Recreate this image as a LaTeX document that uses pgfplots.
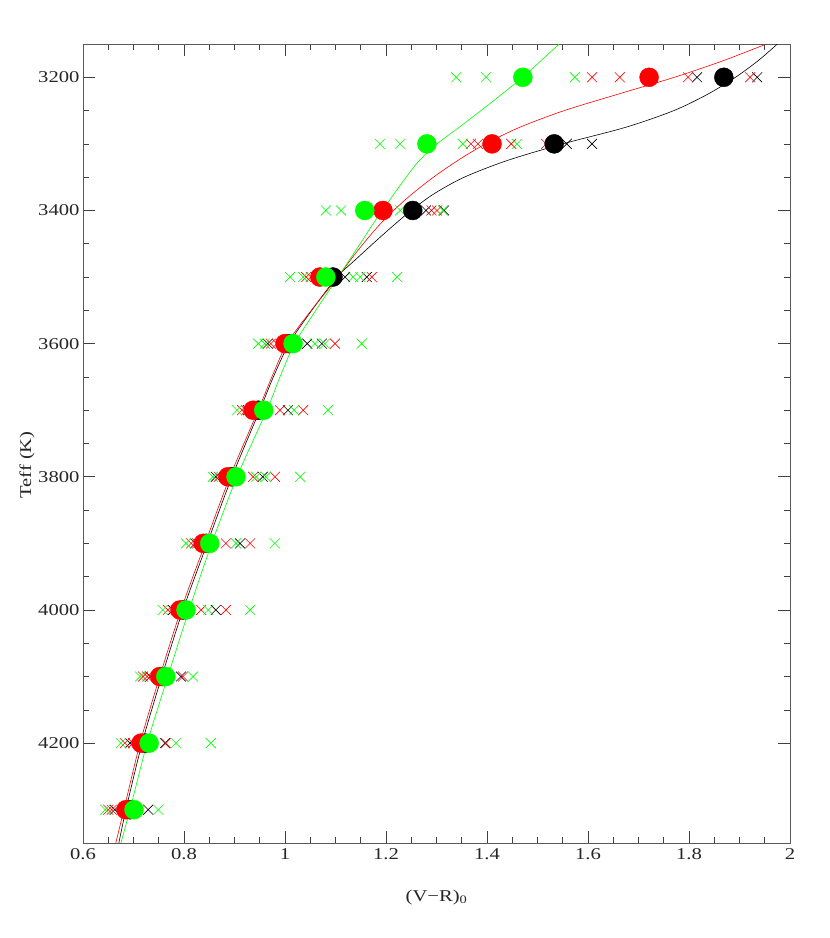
\documentclass[border=0pt]{standalone}
\usepackage{fontspec}
\setmainfont{Liberation Serif}[FakeStretch=1.25]
\usepackage{pgfplots}
\pgfplotsset{compat=1.18}
\definecolor{pgreen}{RGB}{0,255,0}
\definecolor{pred}{RGB}{255,0,0}
\begin{document}
\begin{tikzpicture}[x=1pt,y=1pt]
\useasboundingbox (0,0) rectangle (830,938);
\begin{axis}[
  at={(83pt,95pt)}, anchor=south west, scale only axis,
  width=707pt, height=799pt,
  xmin=0.6, xmax=2, ymin=3150, ymax=4350, y dir=reverse,
  xtick={0.6,0.8,1,1.2,1.4,1.6,1.8,2},
  xticklabels={0.6,0.8,1,1.2,1.4,1.6,1.8,2},
  ytick={3200,3400,3600,3800,4000,4200},
  yticklabels={3200,3400,3600,3800,4000,4200},
  minor x tick num=3, minor y tick num=3,
  tick align=inside, major tick length=12pt, minor tick length=6pt,
  axis line style={black!65, line width=0.9pt},
  every tick/.style={black!75, line width=0.6pt},
  tick label style={font=\fontsize{16.5}{19}\selectfont, black!85},
  xticklabel style={yshift=-2pt},
  xlabel={(V−R)\textsubscript{0}},
  ylabel={Teff (K)},
  label style={font=\fontsize{16.5}{19}\selectfont, black!85},
  xlabel style={at={(axis description cs:0.5,-0.068)}, anchor=center},
  ylabel style={at={(axis description cs:-0.079,0.473)}, anchor=center, rotate=0},
  clip=true,
]
% ---- fitted curves ----
\addplot[black, line width=0.6pt, smooth, tension=0.5] coordinates {
 (1.975,3150) (1.937,3175) (1.892,3200) (1.838,3225) (1.770,3250) (1.675,3275)
 (1.550,3300) (1.440,3325) (1.355,3350) (1.295,3375) (1.250,3400) (1.211,3425)
 (1.174,3450) (1.138,3475) (1.103,3500) (1.053,3550) (1.008,3600) (0.977,3650)
 (0.950,3700) (0.895,3800) (0.846,3900) (0.798,4000) (0.756,4100) (0.717,4200)
 (0.685,4300) (0.671,4350)};
\addplot[pred, line width=0.6pt, smooth, tension=0.5] coordinates {
 (1.953,3150) (1.868,3175) (1.771,3200) (1.661,3225) (1.553,3250) (1.465,3275)
 (1.397,3300) (1.342,3325) (1.294,3350) (1.252,3375) (1.215,3400) (1.183,3425)
 (1.155,3450) (1.129,3475) (1.105,3500) (1.052,3550) (1.004,3600) (0.974,3650)
 (0.947,3700) (0.891,3800) (0.842,3900) (0.794,4000) (0.752,4100) (0.713,4200)
 (0.681,4300) (0.665,4350)};
\addplot[pgreen, line width=0.6pt, smooth, tension=0.5] coordinates {
 (1.543,3150) (1.507,3175) (1.471,3200) (1.430,3225) (1.388,3250) (1.345,3275)
 (1.301,3300) (1.266,3325) (1.240,3350) (1.216,3375) (1.193,3400) (1.170,3425)
 (1.149,3450) (1.127,3475) (1.105,3500) (1.061,3550) (1.019,3600) (0.990,3650)
 (0.964,3700) (0.905,3800) (0.855,3900) (0.810,4000) (0.768,4100) (0.727,4200)
 (0.693,4300) (0.675,4350)};
% ---- individual crosses ----
\addplot[only marks, mark=x, mark size=7pt, black, line width=0.6pt] coordinates {
 (1.816,3200) (1.935,3200)
 (1.558,3300) (1.608,3300)
 (1.279,3400) (1.315,3400)
 (1.119,3500) (1.162,3500)
 (0.966,3600) (1.044,3600) (1.073,3600)
 (0.927,3700) (1.006,3700)
 (0.863,3800) (0.956,3800)
 (0.822,3900) (0.911,3900)
 (0.778,4000) (0.863,4000)
 (0.733,4100) (0.794,4100)
 (0.693,4200) (0.762,4200)
 (0.663,4300) (0.729,4300)};
\addplot[only marks, mark=x, mark size=7pt, pred, line width=0.6pt] coordinates {
 (1.608,3200) (1.663,3200) (1.798,3200) (1.921,3200)
 (1.368,3300) (1.382,3300) (1.448,3300) (1.517,3300)
 (1.290,3400) (1.301,3400)
 (1.042,3500) (1.051,3500) (1.061,3500) (1.172,3500)
 (0.972,3600) (0.984,3600) (1.099,3600)
 (0.915,3700) (0.923,3700) (0.990,3700) (1.036,3700)
 (0.869,3800) (0.879,3800) (0.937,3800) (0.980,3800)
 (0.814,3900) (0.826,3900) (0.883,3900) (0.931,3900)
 (0.768,4000) (0.784,4000) (0.834,4000) (0.883,4000)
 (0.719,4100) (0.727,4100) (0.798,4100)
 (0.683,4200) (0.699,4200) (0.764,4200)
 (0.650,4300) (0.657,4300)};
\addplot[only marks, mark=x, mark size=7pt, pgreen, line width=0.6pt] coordinates {
 (1.339,3200) (1.398,3200) (1.574,3200)
 (1.188,3300) (1.228,3300) (1.352,3300) (1.459,3300)
 (1.081,3400) (1.111,3400) (1.228,3400) (1.313,3400)
 (1.010,3500) (1.036,3500) (1.135,3500) (1.149,3500) (1.222,3500)
 (0.947,3600) (0.960,3600) (1.059,3600) (1.079,3600) (1.152,3600)
 (0.905,3700) (1.018,3700) (1.085,3700)
 (0.857,3800) (0.943,3800) (0.962,3800) (1.030,3800)
 (0.804,3900) (0.903,3900) (0.980,3900)
 (0.758,4000) (0.848,4000) (0.931,4000)
 (0.713,4100) (0.818,4100)
 (0.675,4200) (0.784,4200) (0.853,4200)
 (0.644,4300) (0.749,4300)};
% ---- mean dots ----
\addplot[only marks, mark=*, mark size=9.5pt, black, mark options={draw=none, fill=black}] coordinates {
 (1.869,3200) (1.533,3300) (1.253,3400) (1.095,3500) (1.008,3600) (0.947,3700)
 (0.895,3800) (0.844,3900) (0.798,4000) (0.758,4100) (0.723,4200) (0.693,4300)};
\addplot[only marks, mark=*, mark size=9.5pt, pred, mark options={draw=none, fill=pred}] coordinates {
 (1.721,3200) (1.410,3300) (1.194,3400) (1.069,3500) (1.000,3600) (0.937,3700)
 (0.887,3800) (0.838,3900) (0.792,4000) (0.752,4100) (0.715,4200) (0.685,4300)};
\addplot[only marks, mark=*, mark size=9.5pt, pgreen, mark options={draw=none, fill=pgreen}] coordinates {
 (1.471,3200) (1.281,3300) (1.158,3400) (1.081,3500) (1.016,3600) (0.958,3700)
 (0.903,3800) (0.851,3900) (0.804,4000) (0.764,4100) (0.731,4200) (0.701,4300)};
\end{axis}
\end{tikzpicture}
\end{document}
